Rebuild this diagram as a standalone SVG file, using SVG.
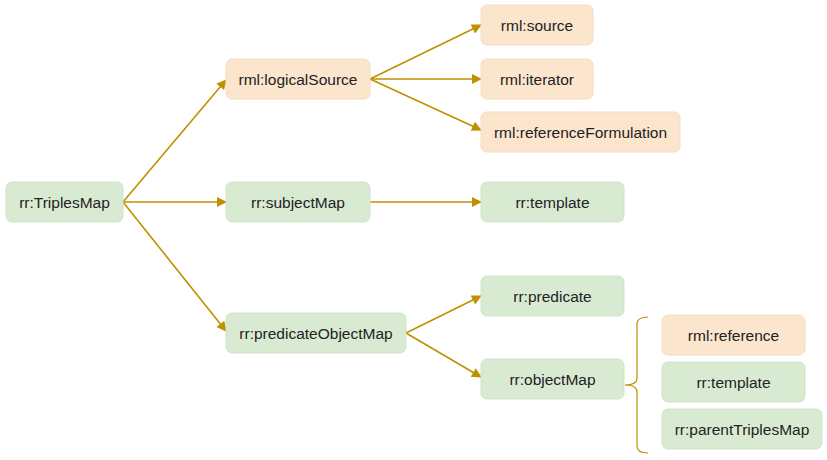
<svg xmlns="http://www.w3.org/2000/svg" width="827" height="460" viewBox="0 0 827 460">
<defs>
<style>
.g{fill:#d9ead3;stroke:#d0e3c9;stroke-width:1;}
.o{fill:#fce5cd;stroke:#f5dcc2;stroke-width:1;}
text{font-family:"Liberation Sans",Arial,sans-serif;font-size:15.5px;fill:#222;text-anchor:middle;dominant-baseline:central;}
.c{stroke:#bf9000;stroke-width:1.6;fill:none;}
</style>
<marker id="ah" viewBox="0 0 10 10" refX="9" refY="5" markerWidth="12" markerHeight="10" markerUnits="userSpaceOnUse" orient="auto">
<path d="M0,0 L10,5 L0,10 z" fill="#bf9000"/>
</marker>
</defs>
<rect width="827" height="460" fill="#fff"/>
<g id="connectors">
<line class="c" x1="123" y1="202" x2="226" y2="80" marker-end="url(#ah)"/>
<line class="c" x1="123" y1="202" x2="226" y2="202" marker-end="url(#ah)"/>
<line class="c" x1="123" y1="202" x2="226" y2="331" marker-end="url(#ah)"/>
<line class="c" x1="370" y1="79" x2="481" y2="25" marker-end="url(#ah)"/>
<line class="c" x1="370" y1="79" x2="481" y2="79" marker-end="url(#ah)"/>
<line class="c" x1="370" y1="79" x2="481" y2="130" marker-end="url(#ah)"/>
<line class="c" x1="370" y1="202" x2="481" y2="202" marker-end="url(#ah)"/>
<line class="c" x1="406" y1="333" x2="481" y2="296" marker-end="url(#ah)"/>
<line class="c" x1="406" y1="333" x2="481" y2="377" marker-end="url(#ah)"/>
<path d="M648,317 Q637,317 637,324 L637,378 Q637,385 625,385 Q637,385 637,392 L637,446 Q637,453 648,453" stroke="#bf9000" stroke-width="1.2" fill="none"/>
</g>
<g id="triplesMap"><rect class="g" x="6" y="182" width="117" height="40" rx="6"/><text x="64.5" y="202">rr:TriplesMap</text></g>
<g id="logicalSource"><rect class="o" x="226" y="59" width="144" height="40" rx="6"/><text x="298" y="79">rml:logicalSource</text></g>
<g id="subjectMap"><rect class="g" x="226" y="182" width="144" height="40" rx="6"/><text x="298" y="202">rr:subjectMap</text></g>
<g id="predicateObjectMap"><rect class="g" x="226" y="313" width="180" height="40" rx="6"/><text x="316" y="333">rr:predicateObjectMap</text></g>
<g id="source"><rect class="o" x="481" y="5" width="112" height="40" rx="6"/><text x="537" y="25">rml:source</text></g>
<g id="iterator"><rect class="o" x="481" y="59" width="112" height="40" rx="6"/><text x="537" y="79">rml:iterator</text></g>
<g id="referenceFormulation"><rect class="o" x="481" y="112" width="199" height="40" rx="6"/><text x="580.5" y="132">rml:referenceFormulation</text></g>
<g id="template1"><rect class="g" x="481" y="182" width="143" height="40" rx="6"/><text x="552.5" y="202">rr:template</text></g>
<g id="predicate"><rect class="g" x="481" y="276" width="143" height="40" rx="6"/><text x="552.5" y="296">rr:predicate</text></g>
<g id="objectMap"><rect class="g" x="481" y="359" width="143" height="40" rx="6"/><text x="552.5" y="379">rr:objectMap</text></g>
<g id="reference"><rect class="o" x="662" y="315" width="143" height="40" rx="6"/><text x="733.5" y="335">rml:reference</text></g>
<g id="template2"><rect class="g" x="662" y="362" width="143" height="40" rx="6"/><text x="733.5" y="382">rr:template</text></g>
<g id="parentTriplesMap"><rect class="g" x="662" y="409" width="160" height="40" rx="6"/><text x="742" y="429">rr:parentTriplesMap</text></g>
</svg>
